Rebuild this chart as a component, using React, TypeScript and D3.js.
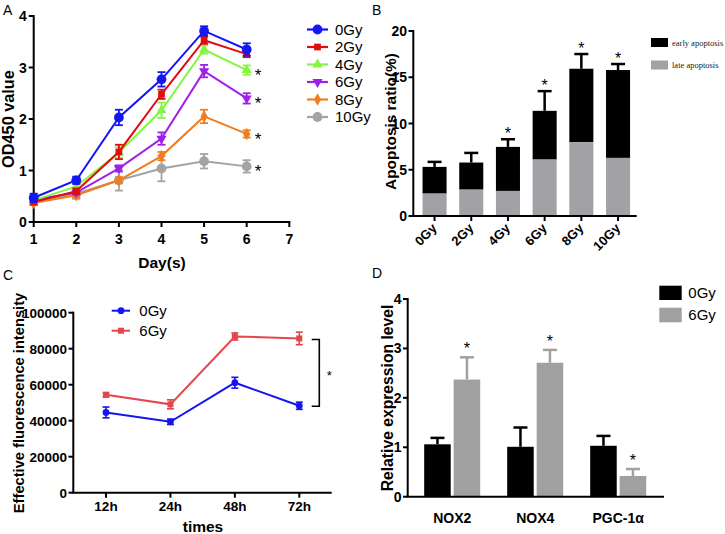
import React from "react";
import * as d3 from "d3";

// ---------- Panel A data ----------
const daysA = [1, 2, 3, 4, 5, 6];
const seriesA = ["0Gy", "2Gy", "4Gy", "6Gy", "8Gy", "10Gy"];
const valuesA0 = [0.47, 0.81, 2.03, 2.77, 3.71, 3.35];
const valuesA2 = [0.39, 0.6, 1.36, 2.48, 3.53, 3.26];
const valuesA4 = [0.42, 0.69, 1.35, 2.17, 3.35, 2.95];
const valuesA6 = [0.43, 0.57, 1.04, 1.62, 2.93, 2.4];
const valuesA8 = [0.37, 0.52, 0.81, 1.28, 2.05, 1.71];
const valuesA10 = [0.39, 0.55, 0.81, 1.04, 1.18, 1.08];
const errA0 = [0.08, 0.07, 0.15, 0.14, 0.09, 0.12];
const errA2 = [0.05, 0.05, 0.14, 0.09, 0.07, 0.06];
const errA4 = [0.05, 0.05, 0.1, 0.15, 0.08, 0.09];
const errA6 = [0.05, 0.04, 0.06, 0.12, 0.12, 0.1];
const errA8 = [0.04, 0.05, 0.06, 0.08, 0.13, 0.07];
const errA10 = [0.04, 0.1, 0.2, 0.25, 0.14, 0.12];
const starsA = ["4Gy", "6Gy", "8Gy", "10Gy"];
const ticksAx = [1, 2, 3, 4, 5, 6, 7];
const ticksAy = [0, 1, 2, 3, 4];

// ---------- Panel B data ----------
const groupsB = ["0Gy", "2Gy", "4Gy", "6Gy", "8Gy", "10Gy"];
const lateB = [2.42, 2.85, 2.71, 6.1, 7.98, 6.28];
const totalB = [5.31, 5.78, 7.47, 11.37, 15.92, 15.78];
const errB = [0.54, 1.04, 0.83, 2.13, 1.59, 0.65];
const starsB = ["4Gy", "6Gy", "8Gy", "10Gy"];
const ticksBy = [0, 5, 10, 15, 20];

// ---------- Panel C data ----------
const timesC = ["12h", "24h", "48h", "72h"];
const valuesC0 = [44600, 39400, 61100, 48300];
const valuesC6 = [54400, 49100, 86800, 85700];
const errC0 = [3000, 1500, 3000, 2000];
const errC6 = [1200, 2500, 2000, 3500];
const ticksCy = [0, 20000, 40000, 60000, 80000, 100000];

// ---------- Panel D data ----------
const genesD = ["NOX2", "NOX4", "PGC-1α"];
const seriesD = ["0Gy", "6Gy"];
const valuesD0 = [1.06, 1.01, 1.03];
const valuesD6 = [2.37, 2.71, 0.42];
const errD0 = [0.13, 0.39, 0.2];
const errD6 = [0.45, 0.26, 0.14];
const starsD = [false, false, false];
const starsD6 = [true, true, true];
const ticksDy = [0, 1, 2, 3, 4];

const FONT = "'Liberation Sans', Arial, Helvetica, sans-serif";
const SERIF = "'Liberation Serif', 'Times New Roman', serif";

const colorsA = ["#1515f5", "#e00d0d", "#84f540", "#a020e8", "#ef7e22", "#a3a3a3"];
const symbolsA = [
  d3.symbolCircle,
  d3.symbolSquare,
  d3.symbolTriangle,
  "down",
  d3.symbolDiamond,
  d3.symbolCircle,
];
const sizesA = [75, 45, 45, 45, 45, 75];

function symPath(t: any, size: number) {
  if (t === "down") return d3.symbol(d3.symbolTriangle, size)() as string;
  return d3.symbol(t, size)() as string;
}

// vertical (bottom-to-top) title drawn with an explicit rotation matrix
function VTitle(props: { x: number; y: number; size: number; children: string }) {
  return (
    <g transform={`matrix(0,-1,1,0,${props.x},${props.y})`}>
      <text x={0} y={0} textAnchor="middle" fontSize={props.size} fontWeight="bold" fill="#000">
        {props.children}
      </text>
    </g>
  );
}

function PanelA() {
  const x = d3.scaleLinear().domain([1, 7]).range([33.7, 289.3]);
  const y = d3.scaleLinear().domain([0, 4]).range([222, 16]);
  const vals = [valuesA0, valuesA2, valuesA4, valuesA6, valuesA8, valuesA10];
  const errs = [errA0, errA2, errA4, errA6, errA8, errA10];
  const line = d3
    .line<number>()
    .x((_, i) => x(daysA[i]))
    .y((d) => y(d));
  return (
    <g fontFamily={FONT}>
      <text x={3} y={15} fontSize={14}>A</text>
      <line x1={x(1)} x2={x(1)} y1={y(4) - 1} y2={y(0)} stroke="#000" strokeWidth={2} />
      <line x1={x(1) - 1} x2={x(7) + 1} y1={y(0)} y2={y(0)} stroke="#000" strokeWidth={2} />
      {ticksAy.map((t) => (
        <g key={t}>
          <line x1={x(1) - 5} x2={x(1)} y1={y(t)} y2={y(t)} stroke="#000" strokeWidth={2} />
          <text x={x(1) - 7} y={y(t)} dy="0.36em" textAnchor="end" fontSize={14} fontWeight="bold">
            {t}
          </text>
        </g>
      ))}
      {ticksAx.map((t) => (
        <g key={t}>
          <line x1={x(t)} x2={x(t)} y1={y(0)} y2={y(0) + 5} stroke="#000" strokeWidth={2} />
          <text x={x(t)} y={244} textAnchor="middle" fontSize={14} fontWeight="bold">
            {t}
          </text>
        </g>
      ))}
      <text x={162} y={268} textAnchor="middle" fontSize={15.5} fontWeight="bold">Day(s)</text>
      <VTitle x={14} y={119} size={16.3}>OD450 value</VTitle>
      {seriesA
        .map((s, si) => ({ s, si }))
        .reverse()
        .map(({ s, si }) => (
          <g key={s}>
            <path d={line(vals[si]) as string} fill="none" stroke={colorsA[si]} strokeWidth={2} />
            {vals[si].map((v, i) => {
              const cx = x(daysA[i]);
              const e = errs[si][i];
              return (
                <g key={i} stroke={colorsA[si]} strokeWidth={1.8}>
                  <line x1={cx} x2={cx} y1={y(v + e)} y2={y(v - e)} />
                  <line x1={cx - 4} x2={cx + 4} y1={y(v + e)} y2={y(v + e)} />
                  <line x1={cx - 4} x2={cx + 4} y1={y(v - e)} y2={y(v - e)} />
                  <path
                    d={symPath(symbolsA[si], sizesA[si])}
                    transform={`translate(${cx},${y(v)})${symbolsA[si] === "down" ? " rotate(180)" : ""}`}
                    fill={colorsA[si]}
                    stroke="none"
                  />
                </g>
              );
            })}
          </g>
        ))}
      {starsA.map((s) => {
        const si = seriesA.indexOf(s);
        const v = vals[si][5];
        return (
          <text key={s} x={258} y={y(v) + 11} textAnchor="middle" fontSize={17} fill="#000">
            *
          </text>
        );
      })}
      {seriesA.map((s, si) => {
        const ly = 29.5 + si * 17.5;
        return (
          <g key={s}>
            <line x1={307} x2={328} y1={ly} y2={ly} stroke={colorsA[si]} strokeWidth={2.2} />
            <path
              d={symPath(symbolsA[si], sizesA[si])}
              transform={`translate(317.5,${ly})${symbolsA[si] === "down" ? " rotate(180)" : ""}`}
              fill={colorsA[si]}
            />
            <text x={335} y={ly} dy="0.36em" fontSize={15}>
              {s}
            </text>
          </g>
        );
      })}
    </g>
  );
}

function PanelB() {
  const x = d3.scaleBand<string>().domain(groupsB).range([416.3, 636.3]).paddingInner(0.345).paddingOuter(0.17);
  const y = d3.scaleLinear().domain([0, 20]).range([216, 31]);
  const bw = x.bandwidth();
  return (
    <g fontFamily={FONT}>
      <text x={372} y={15} fontSize={14}>B</text>
      {groupsB.map((g, i) => {
        const x0 = x(g) as number;
        const cx = x0 + bw / 2;
        const top = y(totalB[i]);
        const et = y(totalB[i] + errB[i]);
        return (
          <g key={g}>
            <line x1={cx} x2={cx} y1={top} y2={et} stroke="#000" strokeWidth={2.5} />
            <line x1={cx - 7} x2={cx + 7} y1={et} y2={et} stroke="#000" strokeWidth={2.5} />
            <rect x={x0} width={bw} y={top} height={y(lateB[i]) - top} fill="#000" />
            <rect x={x0} width={bw} y={y(lateB[i])} height={y(0) - y(lateB[i])} fill="#a2a2a6" />
            {starsB.includes(g) && (
              <text x={cx} y={et - 0.5} textAnchor="middle" fontSize={16}>
                *
              </text>
            )}
            <line x1={cx} x2={cx} y1={y(0)} y2={y(0) + 5} stroke="#000" strokeWidth={2} />
            <text
              transform={`translate(${cx + 3},${y(0) + 13}) rotate(-45)`}
              textAnchor="end"
              fontSize={13}
              fontWeight="bold"
            >
              {g}
            </text>
          </g>
        );
      })}
      <line x1={413.3} x2={413.3} y1={y(20) - 1} y2={y(0)} stroke="#000" strokeWidth={2} />
      <line x1={412.3} x2={636.7} y1={y(0)} y2={y(0)} stroke="#000" strokeWidth={2} />
      {ticksBy.map((t) => (
        <g key={t}>
          <line x1={408.5} x2={413.3} y1={y(t)} y2={y(t)} stroke="#000" strokeWidth={2} />
          <text x={407} y={y(t)} dy="0.36em" textAnchor="end" fontSize={14} fontWeight="bold">
            {t}
          </text>
        </g>
      ))}
      <VTitle x={396} y={121.5} size={15.4}>Apoptosis ratio(%)</VTitle>
      <rect x={651} y={38} width={17} height={9} fill="#000" />
      <text x={672} y={45.5} fontSize={8.5} fontFamily={SERIF} fill="#222">
        early apoptosis
      </text>
      <rect x={651} y={60.5} width={17} height={9} fill="#a2a2a6" />
      <text x={672} y={68} fontSize={8.5} fontFamily={SERIF} fill="#222">
        late apoptosis
      </text>
    </g>
  );
}

function PanelC() {
  const x = d3.scalePoint<string>().domain(timesC).range([106, 299.3]);
  const y = d3.scaleLinear().domain([0, 100000]).range([492.7, 312.7]);
  const line = d3
    .line<number>()
    .x((_, i) => x(timesC[i]) as number)
    .y((d) => y(d));
  const col0 = "#1414f0";
  const col6 = "#e3464c";
  const drawSeries = (vals: number[], errs: number[], col: string, sym: any, size: number) => (
    <g>
      <path d={line(vals) as string} fill="none" stroke={col} strokeWidth={2} />
      {vals.map((v, i) => {
        const cx = x(timesC[i]) as number;
        const e = errs[i];
        return (
          <g key={i} stroke={col} strokeWidth={1.6}>
            <line x1={cx} x2={cx} y1={y(v + e)} y2={y(v - e)} />
            <line x1={cx - 3.5} x2={cx + 3.5} y1={y(v + e)} y2={y(v + e)} />
            <line x1={cx - 3.5} x2={cx + 3.5} y1={y(v - e)} y2={y(v - e)} />
            <path d={d3.symbol(sym, size)() as string} transform={`translate(${cx},${y(v)})`} fill={col} stroke="none" />
          </g>
        );
      })}
    </g>
  );
  return (
    <g fontFamily={FONT}>
      <text x={3} y={280} fontSize={14}>C</text>
      <line x1={73.3} x2={73.3} y1={y(100000) - 1} y2={y(0)} stroke="#000" strokeWidth={2} />
      <line x1={72.3} x2={331.7} y1={y(0)} y2={y(0)} stroke="#000" strokeWidth={2} />
      {ticksCy.map((t) => (
        <g key={t}>
          <line x1={68.5} x2={73.3} y1={y(t)} y2={y(t)} stroke="#000" strokeWidth={2} />
          <text x={67} y={y(t)} dy="0.36em" textAnchor="end" fontSize={13.5} fontWeight="bold">
            {t}
          </text>
        </g>
      ))}
      {timesC.map((t) => (
        <g key={t}>
          <line x1={x(t)} x2={x(t)} y1={y(0)} y2={y(0) + 5} stroke="#000" strokeWidth={2} />
          <text x={x(t)} y={511} textAnchor="middle" fontSize={13.5} fontWeight="bold">
            {t}
          </text>
        </g>
      ))}
      <text x={203} y={532} textAnchor="middle" fontSize={15.5} fontWeight="bold">times</text>
      <VTitle x={24} y={403} size={14.7}>Effective fluorescence intensity</VTitle>
      {drawSeries(valuesC6, errC6, col6, d3.symbolSquare, 36)}
      {drawSeries(valuesC0, errC0, col0, d3.symbolCircle, 36)}
      <line x1={111.7} x2={130} y1={310.7} y2={310.7} stroke={col0} strokeWidth={2} />
      <path d={d3.symbol(d3.symbolCircle, 36)() as string} transform="translate(121,310.7)" fill={col0} />
      <text x={139.3} y={310.7} dy="0.36em" fontSize={15}>0Gy</text>
      <line x1={111.7} x2={130} y1={330.7} y2={330.7} stroke={col6} strokeWidth={2} />
      <path d={d3.symbol(d3.symbolSquare, 36)() as string} transform="translate(121,330.7)" fill={col6} />
      <text x={139.3} y={330.7} dy="0.36em" fontSize={15}>6Gy</text>
      <path
        d={`M311.7,${y(valuesC6[3]) + 1}H319.3V${y(valuesC0[3]) + 0.5}H311.7`}
        fill="none"
        stroke="#000"
        strokeWidth={1.6}
      />
      <text x={329.3} y={380} textAnchor="middle" fontSize={13}>*</text>
    </g>
  );
}

function PanelD() {
  const x0 = d3.scaleBand<string>().domain(genesD).range([410.7, 659.7]).paddingInner(0.325).paddingOuter(0.1625);
  const x1 = d3.scaleBand<string>().domain(seriesD).range([0, x0.bandwidth()]).paddingInner(0.1);
  const y = d3.scaleLinear().domain([0, 4]).range([496.7, 299]);
  const cols = ["#000", "#a0a0a0"];
  const vals = [valuesD0, valuesD6];
  const errs = [errD0, errD6];
  const stars = [starsD, starsD6];
  const bw = x1.bandwidth();
  return (
    <g fontFamily={FONT}>
      <text x={372} y={278} fontSize={14}>D</text>
      {genesD.map((g, gi) => (
        <g key={g}>
          {seriesD.map((s, si) => {
            const bx = (x0(g) as number) + (x1(s) as number);
            const cx = bx + bw / 2;
            const v = vals[si][gi];
            const et = y(v + errs[si][gi]);
            return (
              <g key={s}>
                <line x1={cx} x2={cx} y1={y(v)} y2={et} stroke={cols[si]} strokeWidth={2.5} />
                <line x1={cx - 7} x2={cx + 7} y1={et} y2={et} stroke={cols[si]} strokeWidth={2.5} />
                <rect x={bx} width={bw} y={y(v)} height={y(0) - y(v)} fill={cols[si]} />
                {stars[si][gi] && (
                  <text x={cx} y={et - 3} textAnchor="middle" fontSize={16}>
                    *
                  </text>
                )}
              </g>
            );
          })}
          <text
            x={(x0(g) as number) + x0.bandwidth() / 2}
            y={523}
            textAnchor="middle"
            fontSize={14}
            fontWeight="bold"
          >
            {g}
          </text>
        </g>
      ))}
      <line x1={407.7} x2={407.7} y1={y(4) - 1} y2={y(0)} stroke="#000" strokeWidth={2} />
      <line x1={406.7} x2={664} y1={y(0)} y2={y(0)} stroke="#000" strokeWidth={2} />
      {ticksDy.map((t) => (
        <g key={t}>
          <line x1={403} x2={407.7} y1={y(t)} y2={y(t)} stroke="#000" strokeWidth={2} />
          <text x={401.5} y={y(t)} dy="0.36em" textAnchor="end" fontSize={14} fontWeight="bold">
            {t}
          </text>
        </g>
      ))}
      <VTitle x={393} y={398} size={15.7}>Relative expression level</VTitle>
      <rect x={659.3} y={285.7} width={22.4} height={14.3} fill="#000" />
      <text x={688.3} y={292.8} dy="0.36em" fontSize={15}>0Gy</text>
      <rect x={659.3} y={307.7} width={22.4} height={14.6} fill="#a0a0a0" />
      <text x={688.3} y={315} dy="0.36em" fontSize={15}>6Gy</text>
    </g>
  );
}

export default function App() {
  return (
    <svg
      width={725}
      height={534}
      viewBox="0 0 725 534"
      style={{ position: "absolute", left: 0, top: 0, background: "#fff" }}
    >
      <rect width={725} height={534} fill="#fff" />
      <PanelA />
      <PanelB />
      <PanelC />
      <PanelD />
    </svg>
  );
}
